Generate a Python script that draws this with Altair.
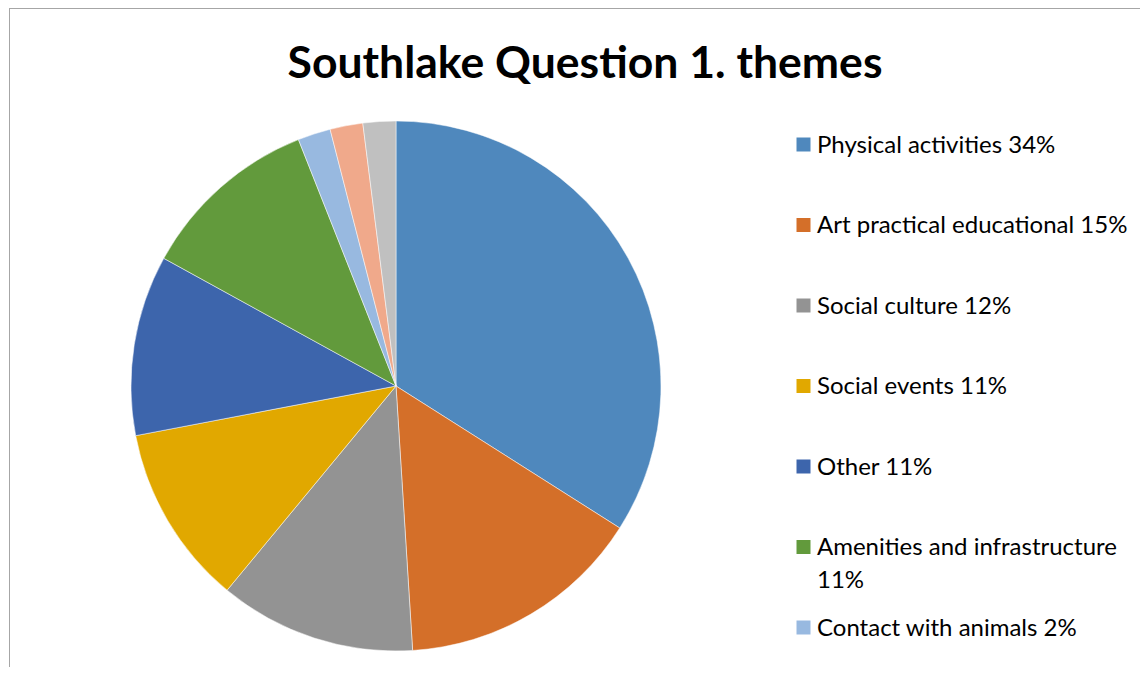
import altair as alt
import pandas as pd

# ---- data ----
categories = [
    "Physical activities",
    "Art practical educational",
    "Social culture",
    "Social events",
    "Other",
    "Amenities and infrastructure",
    "Contact with animals",
    "Theme 8",
    "Theme 9",
]
values = [34, 15, 12, 11, 11, 11, 2, 2, 2]
colors = ["#4F88BD", "#D46F29", "#939393", "#E1A800", "#3D65AC",
          "#629A3C", "#98B9E0", "#F0A98B", "#C0C0C0"]
# legend entries visible in the picture (label wrapped as in reference)
legend_labels = [
    "Physical activities 34%",
    "Art practical educational 15%",
    "Social culture 12%",
    "Social events 11%",
    "Other 11%",
    "Amenities and infrastructure\n11%",
    "Contact with animals 2%",
]

W, H = 1132, 659
FONT = "Lato"

pie_df = pd.DataFrame({
    "theme": categories,
    "value": values,
    "order": list(range(len(categories))),
})
leg_df = pd.DataFrame({
    "theme": categories[:len(legend_labels)],
    "label": legend_labels,
    "row": list(range(len(legend_labels))),
})

color_scale = alt.Scale(domain=categories, range=colors)

pie = alt.Chart(pie_df).mark_arc(
    radius=265, stroke="#ffffff", strokeWidth=0.5
).encode(
    theta=alt.Theta("value:Q", stack=True),
    order=alt.Order("order:Q"),
    color=alt.Color("theme:N", scale=color_scale, legend=None),
    x=alt.value(388),
    y=alt.value(378),
)

row_scale = alt.Scale(domain=[0, 8], range=[136.5, 780.5])

leg_sq = alt.Chart(leg_df).mark_square(size=196, opacity=1).encode(
    x=alt.value(795.5),
    y=alt.Y("row:Q", scale=row_scale, axis=None),
    color=alt.Color("theme:N", scale=color_scale, legend=None),
)

leg_tx = alt.Chart(leg_df).mark_text(
    align="left", baseline="alphabetic", dy=8, font=FONT, fontSize=24,
    color="#000000", lineBreak="\n", lineHeight=33,
).encode(
    x=alt.value(809),
    y=alt.Y("row:Q", scale=row_scale, axis=None),
    text="label:N",
)

frame_left = alt.Chart(pie_df).mark_rule(color="#a6a6a6", strokeWidth=1).encode(
    x=alt.value(1.5), y=alt.value(0), y2=alt.value(H)
)
frame_top = alt.Chart(pie_df).mark_rule(color="#a6a6a6", strokeWidth=1).encode(
    x=alt.value(1), x2=alt.value(W), y=alt.value(0.5)
)

chart = alt.layer(frame_left, frame_top, pie, leg_sq, leg_tx).properties(
    width=W,
    height=H,
    autosize=alt.AutoSizeParams(type="none"),
    padding=0,
    title=alt.TitleParams(
        "Southlake Question 1. themes",
        font=FONT, fontSize=44.5, fontWeight="bold", color="#000000",
        anchor="middle", baseline="alphabetic", offset=-115, dx=11,
    ),
).configure_view(stroke=None)

chart.save("out.html", embed_options={"renderer": "svg", "actions": False})
